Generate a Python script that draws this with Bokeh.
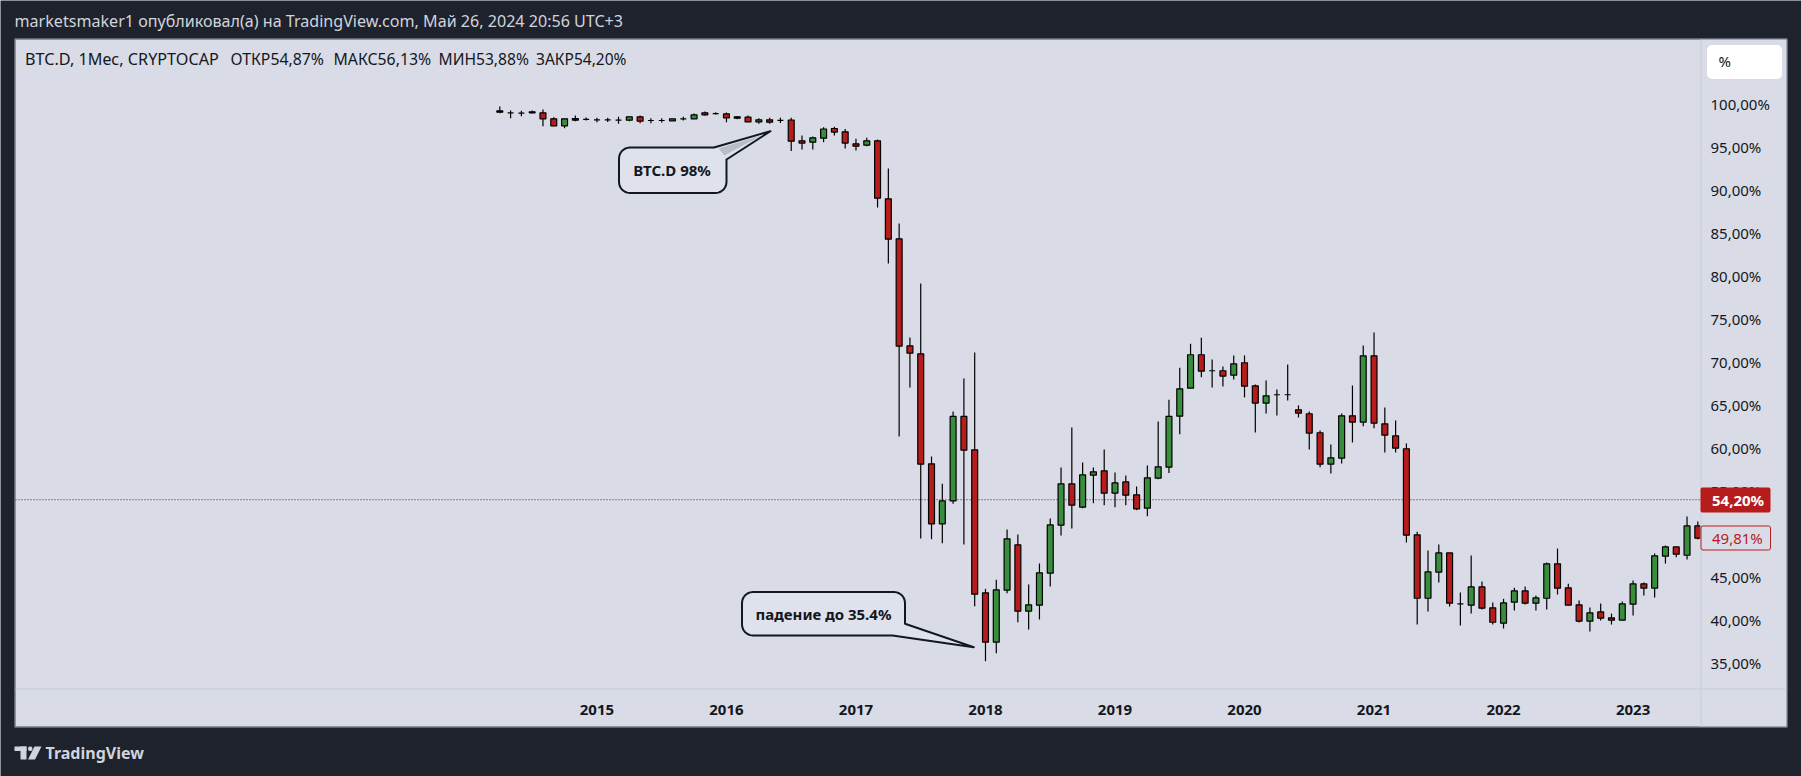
from bokeh.plotting import figure
from bokeh.embed import file_html
from bokeh.resources import INLINE
from bokeh.models import (ColumnDataSource, LinearAxis, FixedTicker, Range1d, Label,
                          BoxAnnotation, PolyAnnotation)
import math

# Monthly candles of BTC.D, Apr 2014 .. Jul 2023
opens = [99.41,99.18,99.14,99.30,99.18,98.48,97.67,98.52,98.41,98.37,98.37,98.33,98.33,98.72,98.29,98.29,98.25,98.48,98.48,99.18,
         99.10,99.06,98.72,98.68,98.13,98.37,98.30,98.35,95.93,95.77,96.24,97.36,96.97,95.58,95.42,95.93,89.18,84.53,72.09,71.16,
         58.37,51.39,54.06,63.88,60.00,43.37,37.63,43.68,48.95,41.23,41.93,45.65,51.23,56.04,53.33,57.05,57.55,54.96,56.27,54.76,
         53.21,56.70,57.98,63.91,67.17,71.05,69.19,69.19,68.68,70.12,67.44,65.43,66.40,66.40,64.65,64.19,61.98,58.33,59.03,63.95,
         63.22,70.93,63.02,61.63,60.12,50.11,42.74,45.77,48.01,42.08,41.93,44.06,41.62,39.84,42.28,43.60,42.16,42.74,46.74,43.95,
         41.97,40.07,41.15,40.46,40.19,42.05,44.41,43.91,47.63,48.71,47.74,51.16]
closes = [99.26,99.18,99.14,99.18,98.48,97.67,98.48,98.33,98.41,98.37,98.37,98.33,98.72,98.21,98.29,98.29,98.48,98.48,98.95,98.95,
          99.10,98.60,98.56,98.13,98.37,98.10,98.30,95.89,95.66,96.28,97.30,96.94,95.66,95.31,95.93,89.26,84.49,72.05,71.24,58.33,
          51.39,54.06,63.88,59.96,43.21,37.63,43.72,49.65,41.23,41.97,45.69,51.27,56.04,53.56,57.09,57.44,54.96,56.16,54.72,53.13,
          56.74,58.02,63.88,67.09,71.05,69.15,69.19,68.57,70.00,67.40,65.43,66.28,66.40,66.40,64.26,61.94,58.33,59.07,63.95,63.22,
          70.93,63.10,61.71,60.19,50.08,42.74,45.81,48.01,42.16,42.08,44.06,41.58,39.95,42.20,43.60,42.16,42.78,46.74,43.91,41.93,
          40.07,41.04,40.42,40.19,42.08,44.41,43.91,47.67,48.71,47.86,51.15,49.72]
highs = [99.92,99.45,99.41,99.45,99.57,98.68,98.48,98.87,98.64,98.60,98.60,98.72,98.72,98.87,98.56,98.56,98.48,98.72,99.10,99.34,
         99.26,99.22,98.79,98.87,98.56,98.60,98.60,98.60,96.55,96.43,97.50,97.55,97.30,96.16,96.28,96.08,92.71,86.32,73.06,79.34,
         59.22,56.04,64.46,68.29,71.32,43.83,44.88,50.73,50.15,44.34,46.78,52.01,57.94,62.60,58.52,57.94,60.03,57.36,57.01,55.73,
         58.17,63.29,65.81,69.54,72.33,73.02,70.50,69.69,70.97,70.97,67.60,68.06,67.02,69.92,65.16,64.46,62.25,60.62,64.22,67.48,
         72.13,73.64,64.92,63.41,60.74,50.46,48.29,48.98,48.01,43.40,47.70,44.68,42.24,42.67,43.95,44.10,43.05,46.89,48.52,44.41,
         42.47,41.66,42.12,40.96,42.36,44.80,44.57,47.94,48.87,48.71,52.24,51.66]
lows = [99.14,98.56,98.79,99.14,97.63,97.63,97.40,98.21,98.29,98.10,98.13,97.90,98.21,97.98,97.98,98.06,98.25,98.29,98.48,98.87,
        98.99,98.10,98.44,98.10,97.90,97.90,98.00,94.73,94.92,94.92,95.77,96.55,95.04,94.80,95.31,88.18,81.66,61.55,67.25,49.69,
        49.61,49.14,53.72,48.99,41.82,35.42,36.35,43.33,39.96,39.10,40.27,44.10,50.03,50.85,53.21,53.79,53.56,53.33,53.56,52.98,
        52.28,56.58,57.29,61.82,67.17,68.45,67.25,67.36,68.18,66.09,62.02,64.22,64.00,65.74,63.76,60.04,57.98,57.25,58.41,60.85,
        62.75,62.52,59.69,59.69,49.22,39.68,41.19,44.57,41.77,39.57,40.96,41.43,39.68,39.22,41.31,42.00,41.31,41.43,43.17,41.93,
        39.91,38.87,40.15,39.68,40.19,40.73,43.05,42.82,46.77,47.51,47.24,49.57]
years = ["2015","2016","2017","2018","2019","2020","2021","2022","2023"]
price_ticks = [35,40,45,50,55,60,65,70,75,80,85,90,95,100]
last_close = 54.20
prev_tag = 49.81

BG = "#d9dce6"; DARK = "#1e222d"; EDGE = "#787b86"; SEP = "#c8cbd6"
RED = "#b71c1c"; GREEN = "#388e3c"; TXT = "#131722"; HEAD = "#d1d4dc"
FONT = "Noto Sans"

# page pixel <-> data mapping used for annotation placement
X0, DX = 499.3, 10.793
Y0, DY = 105.3, 8.6
def X(px): return (px - X0) / DX
def V(py): return 100 - (py - Y0) / DY

p = figure(width=1801, height=776, output_backend="svg", toolbar_location=None,
           x_range=Range1d(X(0), X(1801)), y_range=Range1d(V(776), V(0)),
           x_axis_location=None, y_axis_location=None, min_border=0,
           background_fill_color=DARK, border_fill_color=DARK, outline_line_color=None)
p.grid.visible = False

idx = list(range(len(opens)))
cols = [GREEN if c > o else RED for o, c in zip(opens, closes)]
src = ColumnDataSource(dict(x=idx, o=opens, c=closes, h=highs, l=lows, col=cols))

def cbox(l, r, t, b, **kw):
    return BoxAnnotation(left=l, right=r, top=t, bottom=b,
                         left_units="canvas", right_units="canvas", top_units="canvas", bottom_units="canvas", **kw)

# panel
p.add_layout(cbox(14.5, 1786.5, 38.5, 726.5, fill_color=BG, fill_alpha=1, line_color=EDGE, line_alpha=1, line_width=1.5, level="underlay"))

# last price line
p.segment([X(15)], [last_close], [X(1700)], [last_close], line_color=RED, line_width=1.3, line_dash="1 2")

# candles
p.segment("x", "h", "x", "l", source=src, line_color="#000000", line_width=1.2)
p.vbar(x="x", top="o", bottom="c", width=0.55, source=src, fill_color="col", line_color="#000000", line_width=1.2)

# price scale area hides what runs past the plot's right edge; separators
p.add_layout(cbox(1700, 1785.8, 39.3, 725.8, fill_color=BG, fill_alpha=1, line_alpha=0, level="glyph"))
p.add_layout(cbox(1700, 1701, 39, 726, fill_color=SEP, fill_alpha=1, line_alpha=0, level="glyph"))
p.add_layout(cbox(15, 1786, 688, 689, fill_color=SEP, fill_alpha=1, line_alpha=0, level="glyph"))

# axes (the scale's labels sit about 2px above their price, as in TradingView)
label_lift = 0.22
tick_pos = [t + label_lift for t in price_ticks]
ax_y = LinearAxis(ticker=FixedTicker(ticks=tick_pos), axis_line_color=None, fixed_location=X(1700),
                  major_tick_line_color=None, minor_tick_line_color=None,
                  major_label_standoff=4, major_label_text_font_size="15px",
                  major_label_text_color=TXT, major_label_text_font=FONT,
                  major_label_overrides={q: f"{t},00%" for q, t in zip(tick_pos, price_ticks)})
p.add_layout(ax_y, "right")
year_pos = [9 + 12*k for k in range(len(years))]
ax_x = LinearAxis(ticker=FixedTicker(ticks=year_pos), axis_line_color=None, fixed_location=V(688),
                  major_tick_line_color=None, minor_tick_line_color=None,
                  major_label_standoff=10, major_label_text_font_size="15px", major_label_text_font_style="bold",
                  major_label_text_color=TXT, major_label_text_font=FONT,
                  major_label_overrides=dict(zip(year_pos, years)))
p.add_layout(ax_x, "below")

def rounded(l, r, t, b, rad, corner, tail):
    """Rounded box in page pixels, one corner replaced by a pointer."""
    pts = []
    def arc(cx, cy, a0, a1):
        for k in range(7):
            a = math.radians(a0 + (a1-a0)*k/6)
            pts.append((cx + rad*math.cos(a), cy + rad*math.sin(a)))
    arc(l+rad, t+rad, 180, 270)
    if corner == "tr":
        pts.extend(tail)
    else:
        arc(r-rad, t+rad, 270, 360)
    if corner == "br":
        pts.extend(tail)
    else:
        arc(r-rad, b-rad, 0, 90)
    arc(l+rad, b-rad, 90, 180)
    return pts

def callout(pts):
    p.patch([X(a) for a, _ in pts], [V(b) for _, b in pts], fill_color="#dfe2ea", line_color=TXT, line_width=2, line_join="round")

callout(rounded(618.5, 726, 147, 192.5, 11, "tr", [(713.5, 147), (770, 130.7), (726, 159)]))
callout(rounded(741.5, 904.5, 591.5, 635, 11, "br", [(904.5, 623.3), (973.3, 646.7), (892, 635)]))
# soft shading inside the first pointer
shade = [(718, 148), (762, 134.5), (724, 155)]
p.patch([X(a) for a, _ in shade], [V(b) for _, b in shade], fill_color="#9a9da8", fill_alpha=0.55, line_color=None)

def lbl(text, x, y, color=TXT, size="15px", style="normal", align="left", font=FONT):
    p.add_layout(Label(x=x, y=y, x_units="canvas", y_units="canvas", text=text, text_color=color,
                       text_font_size=size, text_font_style=style, text_align=align,
                       text_baseline="middle", text_font=font))

lbl("BTC.D 98%", 671.5, 169.5, style="bold", size="15px", align="center")
lbl("падение до 35.4%", 823, 613.5, style="bold", size="15px", align="center")

# texts around the chart
lbl("marketsmaker1 опубликовал(а) на TradingView.com, Май 26, 2024 20:56 UTC+3", 14, 20, color=HEAD, size="16.1px")
lbl("BTC.D, 1Мес, CRYPTOCAP", 24.5, 58, size="16.2px")
lbl("ОТКР54,87%", 230, 58, size="15.8px")
lbl("МАКС56,13%", 333, 58, size="15.8px")
lbl("МИН53,88%", 438, 58, size="15.6px")
lbl("ЗАКР54,20%", 535.5, 58, size="15.5px")

# price scale chips
p.add_layout(cbox(1706.5, 1781.5, 44.5, 78.5, fill_color="#ffffff", fill_alpha=1, line_alpha=0, border_radius=5))
lbl("%", 1718, 60, size="15px")
p.add_layout(cbox(1700, 1770, 487, 512, fill_color=RED, fill_alpha=1, line_alpha=0, border_radius=2))
lbl(f"{last_close:.2f}%".replace(".", ","), 1711.5, 499, color="#ffffff", size="15px", style="bold")
p.add_layout(cbox(1700.5, 1770, 525.5, 549.5, fill_color=BG, fill_alpha=1, line_color=RED, line_alpha=1, line_width=1, border_radius=2))
lbl(f"{prev_tag:.2f}%".replace(".", ","), 1711.5, 537, color=RED, size="15px")

# TradingView mark
p.add_layout(cbox(14, 26, 746, 750.5, fill_color=HEAD, fill_alpha=1, line_alpha=0))
p.add_layout(cbox(20, 26, 746, 759, fill_color=HEAD, fill_alpha=1, line_alpha=0))
p.add_layout(cbox(27.5, 32, 746, 750.5, fill_color=HEAD, fill_alpha=1, line_alpha=0, border_radius=2))
p.add_layout(PolyAnnotation(xs=[34, 41, 34.5, 27.5], ys=[746, 746, 759, 759],
                            xs_units="canvas", ys_units="canvas", fill_color=HEAD, fill_alpha=1, line_alpha=0))
lbl("TradingView", 45, 752, color=HEAD, size="16px", style="bold")

open("out.html", "w").write(file_html(p, INLINE))
